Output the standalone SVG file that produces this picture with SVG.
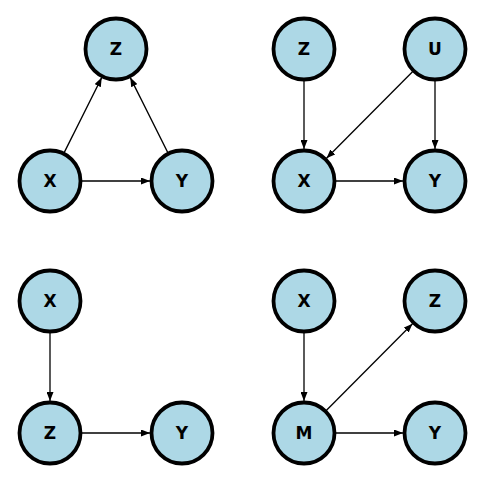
<svg xmlns="http://www.w3.org/2000/svg" width="484" height="482" viewBox="0 0 484 482">
<style>
.node circle{fill:#add8e6;stroke:#000;stroke-width:3.8}
.node text{font-family:"DejaVu Sans",sans-serif;font-weight:bold;font-size:17px;text-anchor:middle;dominant-baseline:central;fill:#000}
.edge{stroke:#000;stroke-width:1.3;fill:none;marker-end:url(#ah)}
</style>
<defs>
<marker id="ah" markerUnits="userSpaceOnUse" markerWidth="9" markerHeight="7" refX="9" refY="3.5" orient="auto">
<path d="M0,0 L9,3.5 L0,7 z" fill="#000"/>
</marker>
</defs>
<rect width="484" height="482" fill="#fff"/>
<g id="connectors">
<line class="edge" x1="64.3" y1="152.4" x2="101.7" y2="77.6"/>
<line class="edge" x1="167.7" y1="152.4" x2="130.3" y2="77.6"/>
<line class="edge" x1="82" y1="181" x2="150" y2="181"/>
<line class="edge" x1="304" y1="81" x2="304" y2="149"/>
<line class="edge" x1="435" y1="81" x2="435" y2="149"/>
<line class="edge" x1="412.5" y1="71.7" x2="326.5" y2="158.3"/>
<line class="edge" x1="336" y1="181" x2="403" y2="181"/>
<line class="edge" x1="50" y1="333" x2="50" y2="401"/>
<line class="edge" x1="82" y1="433" x2="150" y2="433"/>
<line class="edge" x1="304" y1="333" x2="304" y2="401"/>
<line class="edge" x1="326.5" y1="410.3" x2="412.5" y2="323.7"/>
<line class="edge" x1="336" y1="433" x2="403" y2="433"/>
</g>
<g id="p1-Z" class="node"><circle cx="116" cy="49" r="30.5"/><text x="116" y="49">Z</text></g>
<g id="p1-X" class="node"><circle cx="50" cy="181" r="30.5"/><text x="50" y="181">X</text></g>
<g id="p1-Y" class="node"><circle cx="182" cy="181" r="30.5"/><text x="182" y="181">Y</text></g>
<g id="p2-Z" class="node"><circle cx="304" cy="49" r="30.5"/><text x="304" y="49">Z</text></g>
<g id="p2-U" class="node"><circle cx="435" cy="49" r="30.5"/><text x="435" y="49">U</text></g>
<g id="p2-X" class="node"><circle cx="304" cy="181" r="30.5"/><text x="304" y="181">X</text></g>
<g id="p2-Y" class="node"><circle cx="435" cy="181" r="30.5"/><text x="435" y="181">Y</text></g>
<g id="p3-X" class="node"><circle cx="50" cy="301" r="30.5"/><text x="50" y="301">X</text></g>
<g id="p3-Z" class="node"><circle cx="50" cy="433" r="30.5"/><text x="50" y="433">Z</text></g>
<g id="p3-Y" class="node"><circle cx="182" cy="433" r="30.5"/><text x="182" y="433">Y</text></g>
<g id="p4-X" class="node"><circle cx="304" cy="301" r="30.5"/><text x="304" y="301">X</text></g>
<g id="p4-Z" class="node"><circle cx="435" cy="301" r="30.5"/><text x="435" y="301">Z</text></g>
<g id="p4-M" class="node"><circle cx="304" cy="433" r="30.5"/><text x="304" y="433">M</text></g>
<g id="p4-Y" class="node"><circle cx="435" cy="433" r="30.5"/><text x="435" y="433">Y</text></g>
</svg>
